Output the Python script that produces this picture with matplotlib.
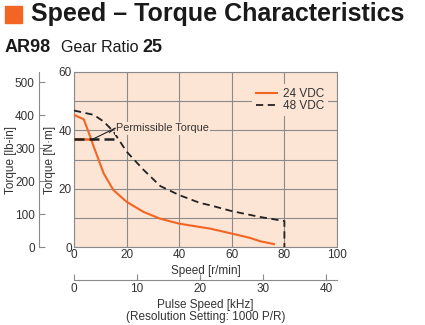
import matplotlib
matplotlib.use('Agg')
import matplotlib.pyplot as plt
from matplotlib.patches import Rectangle

# data (speed r/min, torque N·m)
speed_24 = [0, 3.7, 6.2, 7.5, 9.4, 11.3, 15, 20, 26.5, 32.8, 40, 51.8, 60, 67, 70.7, 76]
torque_24 = [45.3, 43.8, 37.8, 34.4, 29.8, 25.2, 19.5, 15.5, 12, 9.7, 8, 6.3, 4.6, 3.1, 2.0, 1.0]
speed_48 = [0, 7.5, 11.3, 15, 20, 26.5, 32.8, 40, 47.9, 51.8, 60, 70.7, 80, 80]
torque_48 = [46.8, 45.3, 43, 39.6, 32.7, 26.4, 20.9, 17.8, 15.1, 14.3, 12.3, 10.3, 8.9, 0]
perm_24 = ([0, 7.2], [37, 37])
perm_48 = ([0, 16], [37, 37])
labels = ['24 VDC', '48 VDC']

NM_TO_LBIN = 8.851
KHZ_PER_RPM = 25 * 1000 / 60 / 1000

orange = '#f26522'
bg = '#fde5d5'
grid_c = '#8a8a8a'
txt_c = '#333333'
plt.rcParams['font.family'] = ['Liberation Sans', 'DejaVu Sans']
fs = 8.5

W, H = 425, 325
fig = plt.figure(figsize=(W / 100, H / 100), dpi=100)

def box(l, t, r, b):
    return [l / W, 1 - b / H, (r - l) / W, (b - t) / H]

# title block
fig.patches.append(Rectangle((5 / W, 1 - 23 / H), 17 / W, 17 / H, color=orange,
                             transform=fig.transFigure, figure=fig))
fig.text(31 / W, 1 - 14 / H, 'Speed – Torque Characteristics', fontsize=18,
         fontweight='bold', color='#1a1a1a', va='center')
fig.text(5 / W, 1 - 47 / H, 'AR98', fontsize=13, fontweight='bold',
         color='#1a1a1a', va='center')
fig.text(61 / W, 1 - 47 / H, 'Gear Ratio', fontsize=11.5, color='#1a1a1a', va='center')
fig.text(142 / W, 1 - 47 / H, '25', fontsize=13, fontweight='bold',
         color='#1a1a1a', va='center')

# main axes
ax = fig.add_axes(box(74, 72, 337, 247))
ax.set_facecolor(bg)
ax.set_xlim(0, 100)
ax.set_ylim(0, 60)
ax.set_xticks(range(0, 101, 20))
ax.set_yticks(range(0, 61, 20))
ax.set_yticks(range(0, 61, 10), minor=True)
ax.grid(True, which='both', color=grid_c, lw=0.8)
ax.tick_params(length=0, labelsize=fs, colors=txt_c, pad=1.5)
ax.tick_params(which='minor', length=0)
for s in ax.spines.values():
    s.set_color(grid_c)
    s.set_linewidth(0.8)
ax.set_xlabel('Speed [r/min]', fontsize=fs, color=txt_c, labelpad=3)
fig.text(50 / W, 1 - 160 / H, 'Torque [N·m]', fontsize=fs, color=txt_c,
         rotation=90, ha='center', va='center')

ax.plot(*perm_24, color=orange, lw=1.8, zorder=3)
ax.plot(*perm_48, color='#222222', lw=1.8, ls=(0, (4, 2)), zorder=4)
l24, = ax.plot(speed_24, torque_24, color=orange, lw=1.5, zorder=3)
l48, = ax.plot(speed_48, torque_48, color='#222222', lw=1.3, ls=(0, (4, 2.5)), zorder=4)

ax.text(16, 40.7, 'Permissible Torque', fontsize=7.8, color=txt_c, va='center',
        bbox=dict(facecolor=bg, edgecolor='none', pad=1), zorder=5)
ax.plot([15.6, 7.2], [40.7, 37], color='#222222', lw=0.8, zorder=5)
ax.plot([15.6, 13.5], [40.7, 39.3], color='#222222', lw=0.8, zorder=5)

leg = ax.legend([l24, l48], labels, loc='upper right', bbox_to_anchor=(0.965, 0.93),
                fontsize=fs, frameon=True, handlelength=1.8, handletextpad=0.5,
                labelspacing=0.05, borderaxespad=0, borderpad=0.3)
leg.get_frame().set_facecolor(bg)
leg.get_frame().set_edgecolor('none')
leg.get_frame().set_alpha(1)
for t in leg.get_texts():
    t.set_color(txt_c)

# secondary torque axis in lb-in
axl = fig.add_axes(box(39, 72, 40, 247))
axl.set_ylim(0, 60 * NM_TO_LBIN)
axl.set_yticks(range(0, 501, 100))
axl.set_xticks([])
axl.patch.set_visible(False)
for k in ['right', 'top', 'bottom']:
    axl.spines[k].set_visible(False)
axl.spines['left'].set_color(grid_c)
axl.tick_params(axis='y', direction='in', length=4, color=grid_c, labelsize=fs,
                labelcolor=txt_c, pad=3)
fig.text(11 / W, 1 - 160 / H, 'Torque [lb-in]', fontsize=fs, color=txt_c,
         rotation=90, ha='center', va='center')

# secondary speed axis in kHz
axb = fig.add_axes(box(74, 279, 337, 280))
axb.set_xlim(0, 100 * KHZ_PER_RPM)
axb.set_xticks(range(0, 41, 10))
axb.set_yticks([])
axb.patch.set_visible(False)
for k in ['right', 'top', 'left']:
    axb.spines[k].set_visible(False)
axb.spines['bottom'].set_color(grid_c)
axb.tick_params(axis='x', direction='in', length=4, color=grid_c, labelsize=fs,
                labelcolor=txt_c, pad=2)
axb.set_xlabel('Pulse Speed [kHz]\n(Resolution Setting: 1000 P/R)', fontsize=fs,
               color=txt_c, labelpad=3, linespacing=1.0)

fig.savefig('out.png', dpi=100)
